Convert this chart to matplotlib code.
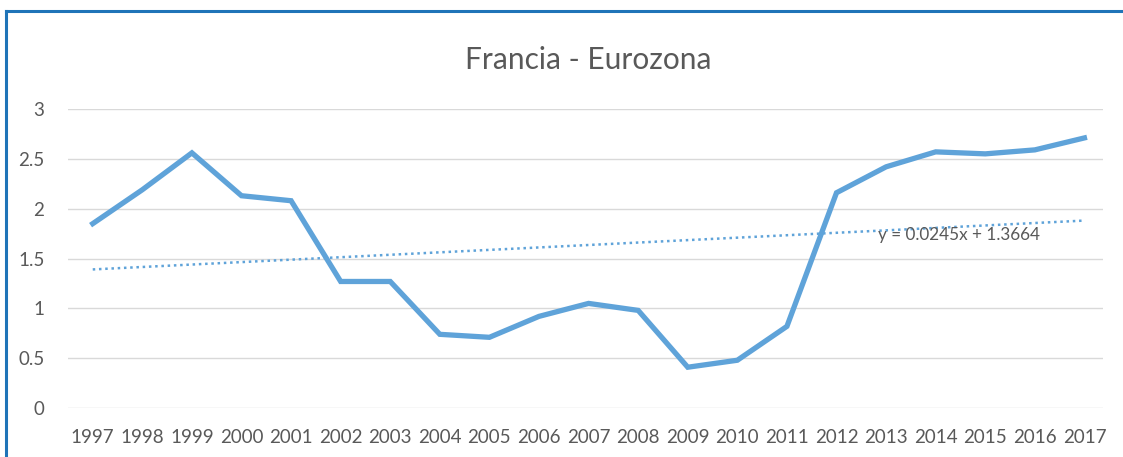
import numpy as np
import matplotlib.pyplot as plt
from matplotlib.lines import Line2D

# datos
years = list(range(1997, 2018))
values = [1.85, 2.19, 2.56, 2.13, 2.08, 1.27, 1.27, 0.74, 0.71, 0.92, 1.05,
          0.98, 0.41, 0.48, 0.82, 2.16, 2.42, 2.57, 2.55, 2.59, 2.71]
trend_slope = 0.0245
trend_intercept = 1.3664
yticks = [0, 0.5, 1, 1.5, 2, 2.5, 3]
ytick_labels = ["0", "0.5", "1", "1.5", "2", "2.5", "3"]

plt.rcParams['font.family'] = ['Lato', 'DejaVu Sans']

fig = plt.figure(figsize=(11.23, 4.57), dpi=100)
ax = fig.add_axes([0.0605, 0.107, 0.9215, 0.6545])

blue = '#5FA3D9'
ax.plot(years, values, color=blue, lw=3.8, solid_joinstyle='miter', zorder=3)

# linea de tendencia (x = 1..21 como en Excel)
idx = np.arange(1, len(years) + 1)
trend = trend_slope * idx + trend_intercept
ax.plot(years, trend, color=blue, lw=1.8, linestyle=(0, (1, 1.5)), zorder=2)
ax.text(2012.83, 1.735, f"y = {trend_slope}x + {trend_intercept}",
        fontsize=12.3, color='#595959', va='center', ha='left', zorder=4)

ax.set_xlim(1996.5, 2017.37)
ax.set_ylim(0, 3)
ax.set_yticks(yticks)
ax.set_yticklabels(ytick_labels)
ax.set_xticks(years)
ax.set_xticklabels([str(y) for y in years])
ax.tick_params(length=0, labelsize=13.5, colors='#595959')
ax.tick_params(axis='y', pad=17)
ax.tick_params(axis='x', pad=15)
ax.grid(axis='y', color='#D9D9D9', lw=1)
ax.set_axisbelow(True)
for s in ax.spines.values():
    s.set_visible(False)

fig.text(0.524, 0.868, "Francia - Eurozona", fontsize=21.5, color='#595959',
         ha='center', va='center')

# marco azul (arriba e izquierda)
fig.add_artist(Line2D([0.005, 1.0], [0.976, 0.976], color='#1F74B8', lw=2.2,
                      transform=fig.transFigure))
fig.add_artist(Line2D([0.0055, 0.0055], [0.0, 0.976], color='#1F74B8', lw=2.2,
                      transform=fig.transFigure))

fig.savefig("out.png", dpi=100)
